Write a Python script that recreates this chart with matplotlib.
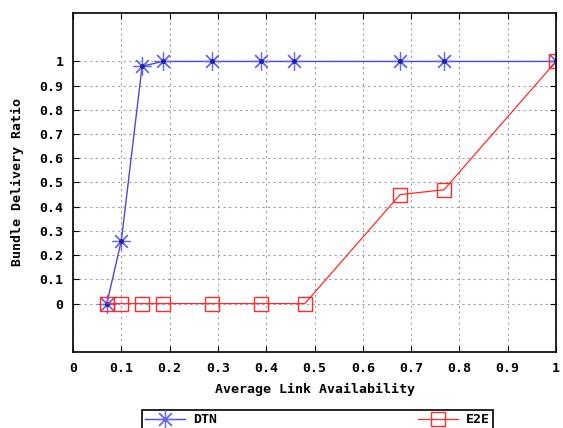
import numpy as np
import matplotlib
matplotlib.use('Agg')
import matplotlib.pyplot as plt

# data
avail = [0.07, 0.10, 0.143, 0.186, 0.288, 0.389, 0.458, 0.677, 0.768, 1.0]
dtn = [0.0, 0.26, 0.98, 1.0, 1.0, 1.0, 1.0, 1.0, 1.0, 1.0]
e2e_x = [0.07, 0.10, 0.143, 0.186, 0.288, 0.389, 0.48, 0.677, 0.768, 1.0]
e2e = [0.0, 0.0, 0.0, 0.0, 0.0, 0.0, 0.0, 0.45, 0.47, 1.0]

xticks = np.arange(0, 1.01, 0.1)
yticks = np.arange(0, 1.01, 0.1)

plt.rcParams['font.family'] = 'DejaVu Sans Mono'
plt.rcParams['font.weight'] = 'bold'
plt.rcParams['font.size'] = 9.5

blue = '#4a4ad8'
red = '#ff2a2a'

fig = plt.figure(figsize=(5.63, 4.28), dpi=100)
ax = fig.add_axes([0.1297, 0.1776, 0.8579, 0.792])

ax.plot(avail, dtn, color=blue, lw=1, marker=(8, 2, 0), ms=13,
        mew=0.9, mec='#6868e8', label='DTN')
ax.plot(avail, dtn, ls='none', color='#2020b0', marker='o', ms=2.5)
ax.plot(e2e_x, e2e, color=red, lw=0.9, marker='s', ms=10, mfc='none',
        mec=red, mew=1.0, label='E2E')

ax.set_xlim(0, 1)
ax.set_ylim(-0.2, 1.2)
ax.set_xticks(xticks)
ax.set_xticklabels(['0'] + ['%.1f' % v for v in xticks[1:-1]] + ['1'])
ax.set_yticks(yticks)
ax.set_yticklabels(['0'] + ['%.1f' % v for v in yticks[1:-1]] + ['1'])
ax.tick_params(direction='in', top=True, right=True, length=4, width=0.8,
               pad=7)
ax.grid(True, color='#a0a0a0', ls=(0, (2, 3)), lw=0.8)
for s in ax.spines.values():
    s.set_linewidth(1.2)

ax.set_xlabel('Average Link Availability', fontweight='bold', labelpad=6)
ax.set_ylabel('Bundle Delivery Ratio', fontweight='bold', labelpad=11)

leg = ax.legend(loc='upper left', bbox_to_anchor=(0.143, -0.171), ncol=2,
                fancybox=False, edgecolor='black', framealpha=1,
                columnspacing=15.25, handlelength=3.0, borderaxespad=0,
                borderpad=0.25, handletextpad=0.6)
leg.get_frame().set_linewidth(1.2)

fig.savefig('out.png', dpi=100)
